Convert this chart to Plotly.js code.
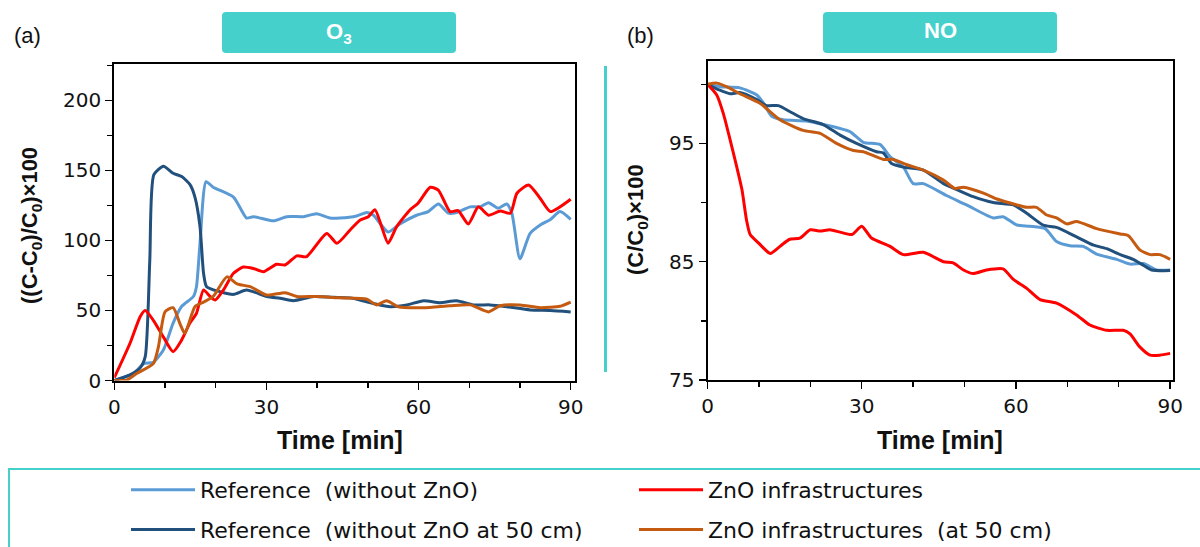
<!DOCTYPE html>
<html>
<head>
<meta charset="utf-8">
<script src="https://cdn.plot.ly/plotly-3.0.1.min.js"></script>
<style>html,body{margin:0;padding:0;background:#fff;overflow:hidden;}#chart{width:1200px;height:547px;}</style>
</head>
<body>
<div id="chart"></div>
<script>
// ---------- Data ----------
const seriesNames = ["Reference  (without ZnO)", "Reference  (without ZnO at 50 cm)", "ZnO infrastructures", "ZnO infrastructures  (at 50 cm)"];
const panelLabels = ["(a)", "(b)"];
const panelTitles = ["O<sub>3</sub>", "NO"];

// Panel (a) O3
const o3RefT = [0, 3.8, 5.8, 7.7, 9.7, 11.6, 13.3, 15.6, 16.2, 16.9, 18.1, 19.5, 23.5, 26.1, 27.4, 31.4, 34, 37.3, 39.9, 42.5, 44.5, 47.8, 49.8, 51.1, 54, 56.4, 59.6, 61.9, 63.9, 65.9, 67.5, 70.2, 72.1, 73.8, 75.7, 77.4, 78.4, 80, 82, 84, 86, 87.9, 90];
const o3RefY = [0, 5, 12, 13, 22, 41, 53, 60, 67, 98, 142, 138, 131, 116, 117, 114, 117, 117, 119, 116, 116, 117.5, 120, 118, 106, 112, 118, 120.6, 126, 119.5, 120, 124, 124, 127, 123, 126, 119.4, 87, 105, 111, 115, 120.6, 115];

const o3Ref50T = [0, 3.1, 5.1, 6.1, 7, 7.8, 9.7, 11.6, 13.3, 14.9, 15.9, 16.9, 17.6, 18.2, 20.9, 23.5, 26.1, 30.1, 32.7, 35.3, 39.3, 43.2, 46.5, 51.1, 54.4, 57.7, 61, 64.2, 67.5, 70.8, 74.1, 77.4, 82, 86, 90];
const o3Ref50Y = [0, 4, 9, 17, 86, 147, 153, 148, 145.6, 140, 131, 110, 76.6, 67, 63.4, 61.5, 64.6, 60, 58.7, 57, 60, 59.4, 59, 55, 52.7, 54, 57, 55.6, 57, 54, 54, 52.7, 50.4, 50, 49];

const o3ZnoT = [0, 3.1, 5.1, 6.1, 7.7, 9.7, 11.6, 13.3, 14.9, 16.2, 17.6, 18.9, 19.9, 21.5, 23.5, 25.4, 27.4, 29.4, 32, 33.7, 36, 37.9, 41.9, 43.9, 46.5, 48.5, 50.1, 51.4, 52.7, 54, 55.7, 58.3, 59.9, 62.3, 63.9, 66.2, 67.8, 69.8, 71.8, 73.8, 76.1, 78.1, 79.4, 81.7, 84, 86, 90];
const o3ZnoY = [2, 26.6, 45.6, 50, 43, 31, 20.6, 29, 41, 48, 64.6, 60, 57.5, 64.6, 76.6, 81, 80, 77.7, 83, 82.5, 89, 88.4, 105, 98, 107.5, 114.6, 117, 122, 110, 98, 110, 121.8, 126.6, 138, 136, 120.6, 121.3, 111.8, 124, 118, 121, 119.4, 133.7, 139.6, 130, 120.6, 129.4];

const o3Zno50T = [0, 2.4, 4.4, 7.7, 8.7, 10, 11.6, 12.9, 13.9, 15.9, 17.6, 19.5, 22.2, 24.2, 26.8, 30.1, 33.7, 36, 39.9, 44.5, 49.8, 51.7, 53.7, 56, 61, 66.2, 70.2, 73.8, 76.1, 80, 84, 87.9, 90];
const o3Zno50Y = [0, 0.3, 5, 12, 24, 49, 52, 41, 33.7, 52.7, 56, 60, 74, 69, 67, 61, 62.7, 60, 60, 59, 58, 54, 57, 52.7, 52, 53.4, 54, 49, 53.4, 54, 52, 53, 56];

// Panel (b) NO
const noRefT = [0, 2.4, 6.3, 9.6, 10.9, 12.5, 14.7, 19.3, 22.5, 27.7, 30.3, 33.6, 35.5, 38.1, 40, 42, 46.5, 50.4, 55.6, 57.5, 60.2, 62.7, 65.7, 67.9, 70.5, 73.1, 75.7, 79.6, 82.2, 84.8, 87.4, 90];
const noRefY = [100, 99.8, 99.7, 99.1, 98.4, 97.3, 97.0, 96.9, 96.6, 96.0, 95.1, 94.9, 93.9, 93.0, 91.6, 91.6, 90.6, 89.8, 88.7, 88.8, 88.1, 88.0, 87.8, 86.7, 86.35, 86.3, 85.65, 85.2, 84.8, 84.85, 84.3, 84.3];

const noRef50T = [0, 2.4, 4.4, 6.3, 9.6, 11.5, 13.8, 16, 18.6, 22.5, 25.8, 29, 32.9, 34.2, 35.8, 38.1, 42, 45.9, 48.5, 51.7, 55.6, 59.5, 62.1, 65.3, 67.9, 71.8, 75.1, 77.7, 80.3, 82.8, 84.8, 86.4, 90];
const noRef50Y = [100, 99.5, 99.2, 99.3, 98.7, 98.2, 98.2, 97.7, 97.1, 96.6, 95.7, 95.0, 94.3, 94.2, 93.3, 93.0, 92.75, 91.6, 91.1, 90.5, 90.0, 89.8, 89.1, 88.1, 87.9, 87.1, 86.4, 86.1, 85.6, 85.2, 84.7, 84.3, 84.25];

const noZnoT = [0, 1.8, 3.1, 4.4, 5.7, 6.7, 7.6, 8.3, 9.9, 12.2, 14.1, 16, 18, 20, 21.9, 23.8, 25.8, 28.1, 30, 31.9, 35.5, 38.1, 42, 45.9, 47.8, 49.8, 51.7, 54.3, 57.5, 59.5, 62.1, 64.7, 67.9, 71.8, 74.4, 77.7, 80.9, 82.2, 84.1, 86.1, 88, 90];
const noZnoY = [100, 99.1, 97.5, 95.3, 93.0, 91.1, 88.5, 87.3, 86.6, 85.7, 86.3, 86.9, 87.0, 87.7, 87.6, 87.7, 87.5, 87.3, 88.0, 87.0, 86.3, 85.6, 85.8, 85.0, 84.9, 84.3, 84.0, 84.3, 84.4, 83.5, 82.75, 81.8, 81.5, 80.5, 79.65, 79.2, 79.2, 78.9, 77.8, 77.1, 77.1, 77.25];

const noZno50T = [0, 1.8, 3.7, 6.3, 10.2, 14.1, 18.6, 21.9, 25.1, 28.4, 30.3, 34.2, 36.1, 38.8, 42, 45.9, 48.1, 49.8, 53.7, 56.3, 60.2, 62.1, 64, 66, 67.9, 69.9, 71.8, 75.7, 80.3, 81.9, 84.1, 86.1, 88, 90];
const noZno50Y = [100, 100.1, 99.8, 99.2, 98.4, 97.0, 96.1, 95.85, 95.0, 94.4, 94.3, 93.65, 93.65, 93.2, 92.75, 91.9, 91.2, 91.3, 90.8, 90.3, 89.8, 89.6, 89.6, 88.95, 88.7, 88.2, 88.4, 87.8, 87.35, 87.2, 86.0, 85.6, 85.6, 85.2];

// ---------- Styling ----------
const colors = ["#5B9BD5", "#22507C", "#FF0000", "#C55A11"];
const TEAL = "#45D0CC";
const FONT = "Liberation Sans, Arial, sans-serif";
const WIDE = "DejaVu Sans, Liberation Sans, sans-serif";
const W = 1200, H = 547;
const px = x => x / W;
const py = y => 1 - y / H;

function line(t, y, i, xa, ya, show) {
  return {
    x: t, y: y, type: "scatter", mode: "lines",
    name: seriesNames[i],
    line: {color: colors[i], width: 3, shape: "spline", smoothing: 0.6},
    xaxis: xa, yaxis: ya,
    showlegend: show,
    legend: (i < 2) ? "legend" : "legend2",
    legendgroup: "g" + i,
    hoverinfo: "skip"
  };
}

const traces = [
  line(o3RefT, o3RefY, 0, "x", "y", true),
  line(o3Ref50T, o3Ref50Y, 1, "x", "y", true),
  line(o3ZnoT, o3ZnoY, 2, "x", "y", true),
  line(o3Zno50T, o3Zno50Y, 3, "x", "y", true),
  line(noRefT, noRefY, 0, "x2", "y2", false),
  line(noRef50T, noRef50Y, 1, "x2", "y2", false),
  line(noZnoT, noZnoY, 2, "x2", "y2", false),
  line(noZno50T, noZno50Y, 3, "x2", "y2", false)
];

function axisBase() {
  return {
    showline: true, mirror: true, linecolor: "#000", linewidth: 2,
    showgrid: false, zeroline: false,
    ticks: "outside", ticklen: 7, tickwidth: 1.5, tickcolor: "#000",
    tickfont: {family: WIDE, size: 20, color: "#111"},
    fixedrange: true
  };
}

const xaxis = Object.assign(axisBase(), {
  domain: [px(114.3), px(575)], range: [0, 90.85], anchor: "y",
  tickvals: [0, 30, 60, 90],
  minor: {dtick: 10, ticks: "outside", ticklen: 5, tickwidth: 1.5, tickcolor: "#000", showgrid: false}
});
const yaxis = Object.assign(axisBase(), {
  domain: [py(380.5), py(64)], range: [0, 226], anchor: "x",
  tickvals: [0, 50, 100, 150, 200],
  minor: {dtick: 25, ticks: "outside", ticklen: 5, tickwidth: 1.5, tickcolor: "#000", showgrid: false}
});
const xaxis2 = Object.assign(axisBase(), {
  domain: [px(707.5), px(1173)], range: [0, 90.56], anchor: "y2",
  tickvals: [0, 30, 60, 90],
  minor: {dtick: 10, ticks: "outside", ticklen: 5, tickwidth: 1.5, tickcolor: "#000", showgrid: false}
});
const yaxis2 = Object.assign(axisBase(), {
  domain: [py(380), py(61)], range: [75, 101.97], anchor: "x2",
  tickvals: [75, 85, 95],
  minor: {tickvals: [80, 90, 100], ticks: "outside", ticklen: 5, tickwidth: 1.5, tickcolor: "#000", showgrid: false}
});

function roundRectPath(x0, y0, x1, y1, r) {
  const P = (x, y) => px(x) + "," + py(y);
  return "M" + P(x0 + r, y0) + " L" + P(x1 - r, y0) + " Q" + P(x1, y0) + " " + P(x1, y0 + r) +
    " L" + P(x1, y1 - r) + " Q" + P(x1, y1) + " " + P(x1 - r, y1) +
    " L" + P(x0 + r, y1) + " Q" + P(x0, y1) + " " + P(x0, y1 - r) +
    " L" + P(x0, y0 + r) + " Q" + P(x0, y0) + " " + P(x0 + r, y0) + " Z";
}

const shapes = [
  {type: "path", xref: "paper", yref: "paper", path: roundRectPath(222, 12, 456, 53, 4), fillcolor: TEAL, line: {width: 0}, layer: "below"},
  {type: "path", xref: "paper", yref: "paper", path: roundRectPath(823, 12, 1057, 53, 4), fillcolor: TEAL, line: {width: 0}, layer: "below"},
  {type: "line", xref: "paper", yref: "paper", x0: px(605.5), x1: px(605.5), y0: py(372), y1: py(66), line: {color: TEAL, width: 3}},
  {type: "rect", xref: "paper", yref: "paper", x0: px(9), x1: px(1215), y0: py(560), y1: py(469), line: {color: TEAL, width: 2}, fillcolor: "rgba(0,0,0,0)"}
];

function ann(text, x, y, size, color, extra) {
  return Object.assign({text, xref: "paper", yref: "paper", x: px(x), y: py(y), xanchor: "center", yanchor: "middle",
    showarrow: false, font: {family: FONT, size, color}}, extra || {});
}

const annotations = [
  ann(panelLabels[0], 27, 35, 22, "#111"),
  ann(panelLabels[1], 640, 35, 22, "#111"),
  ann("<b>" + panelTitles[0] + "</b>", 339, 33, 22, "#fff"),
  ann("<b>" + panelTitles[1] + "</b>", 940, 31, 22, "#fff"),
  ann("<b>((C-C<sub>0</sub>)/C<sub>0</sub>)×100</b>", 31, 226, 22, "#111", {textangle: -90}),
  ann("<b>(C/C<sub>0</sub>)×100</b>", 637, 220, 22, "#111", {textangle: -90}),
  ann("<b>Time [min]</b>", 340, 440, 25, "#111"),
  ann("<b>Time [min]</b>", 940, 440, 25, "#111")
];

const legendBase = {
  orientation: "v", xanchor: "left", yanchor: "top",
  bgcolor: "rgba(0,0,0,0)", borderwidth: 0,
  font: {family: WIDE, size: 22, color: "#111"},
  traceorder: "grouped", tracegroupgap: 8, itemwidth: 64
};

const layout = {
  width: W, height: H,
  margin: {l: 0, r: 0, t: 0, b: 0, autoexpand: false},
  paper_bgcolor: "#fff", plot_bgcolor: "#fff",
  font: {family: FONT, color: "#111"},
  xaxis, yaxis, xaxis2, yaxis2,
  shapes, annotations,
  legend: Object.assign({}, legendBase, {x: px(126), y: py(469)}),
  legend2: Object.assign({}, legendBase, {x: px(634), y: py(469)})
};

Plotly.newPlot("chart", traces, layout, {displayModeBar: false, staticPlot: true});
</script>
</body>
</html>
